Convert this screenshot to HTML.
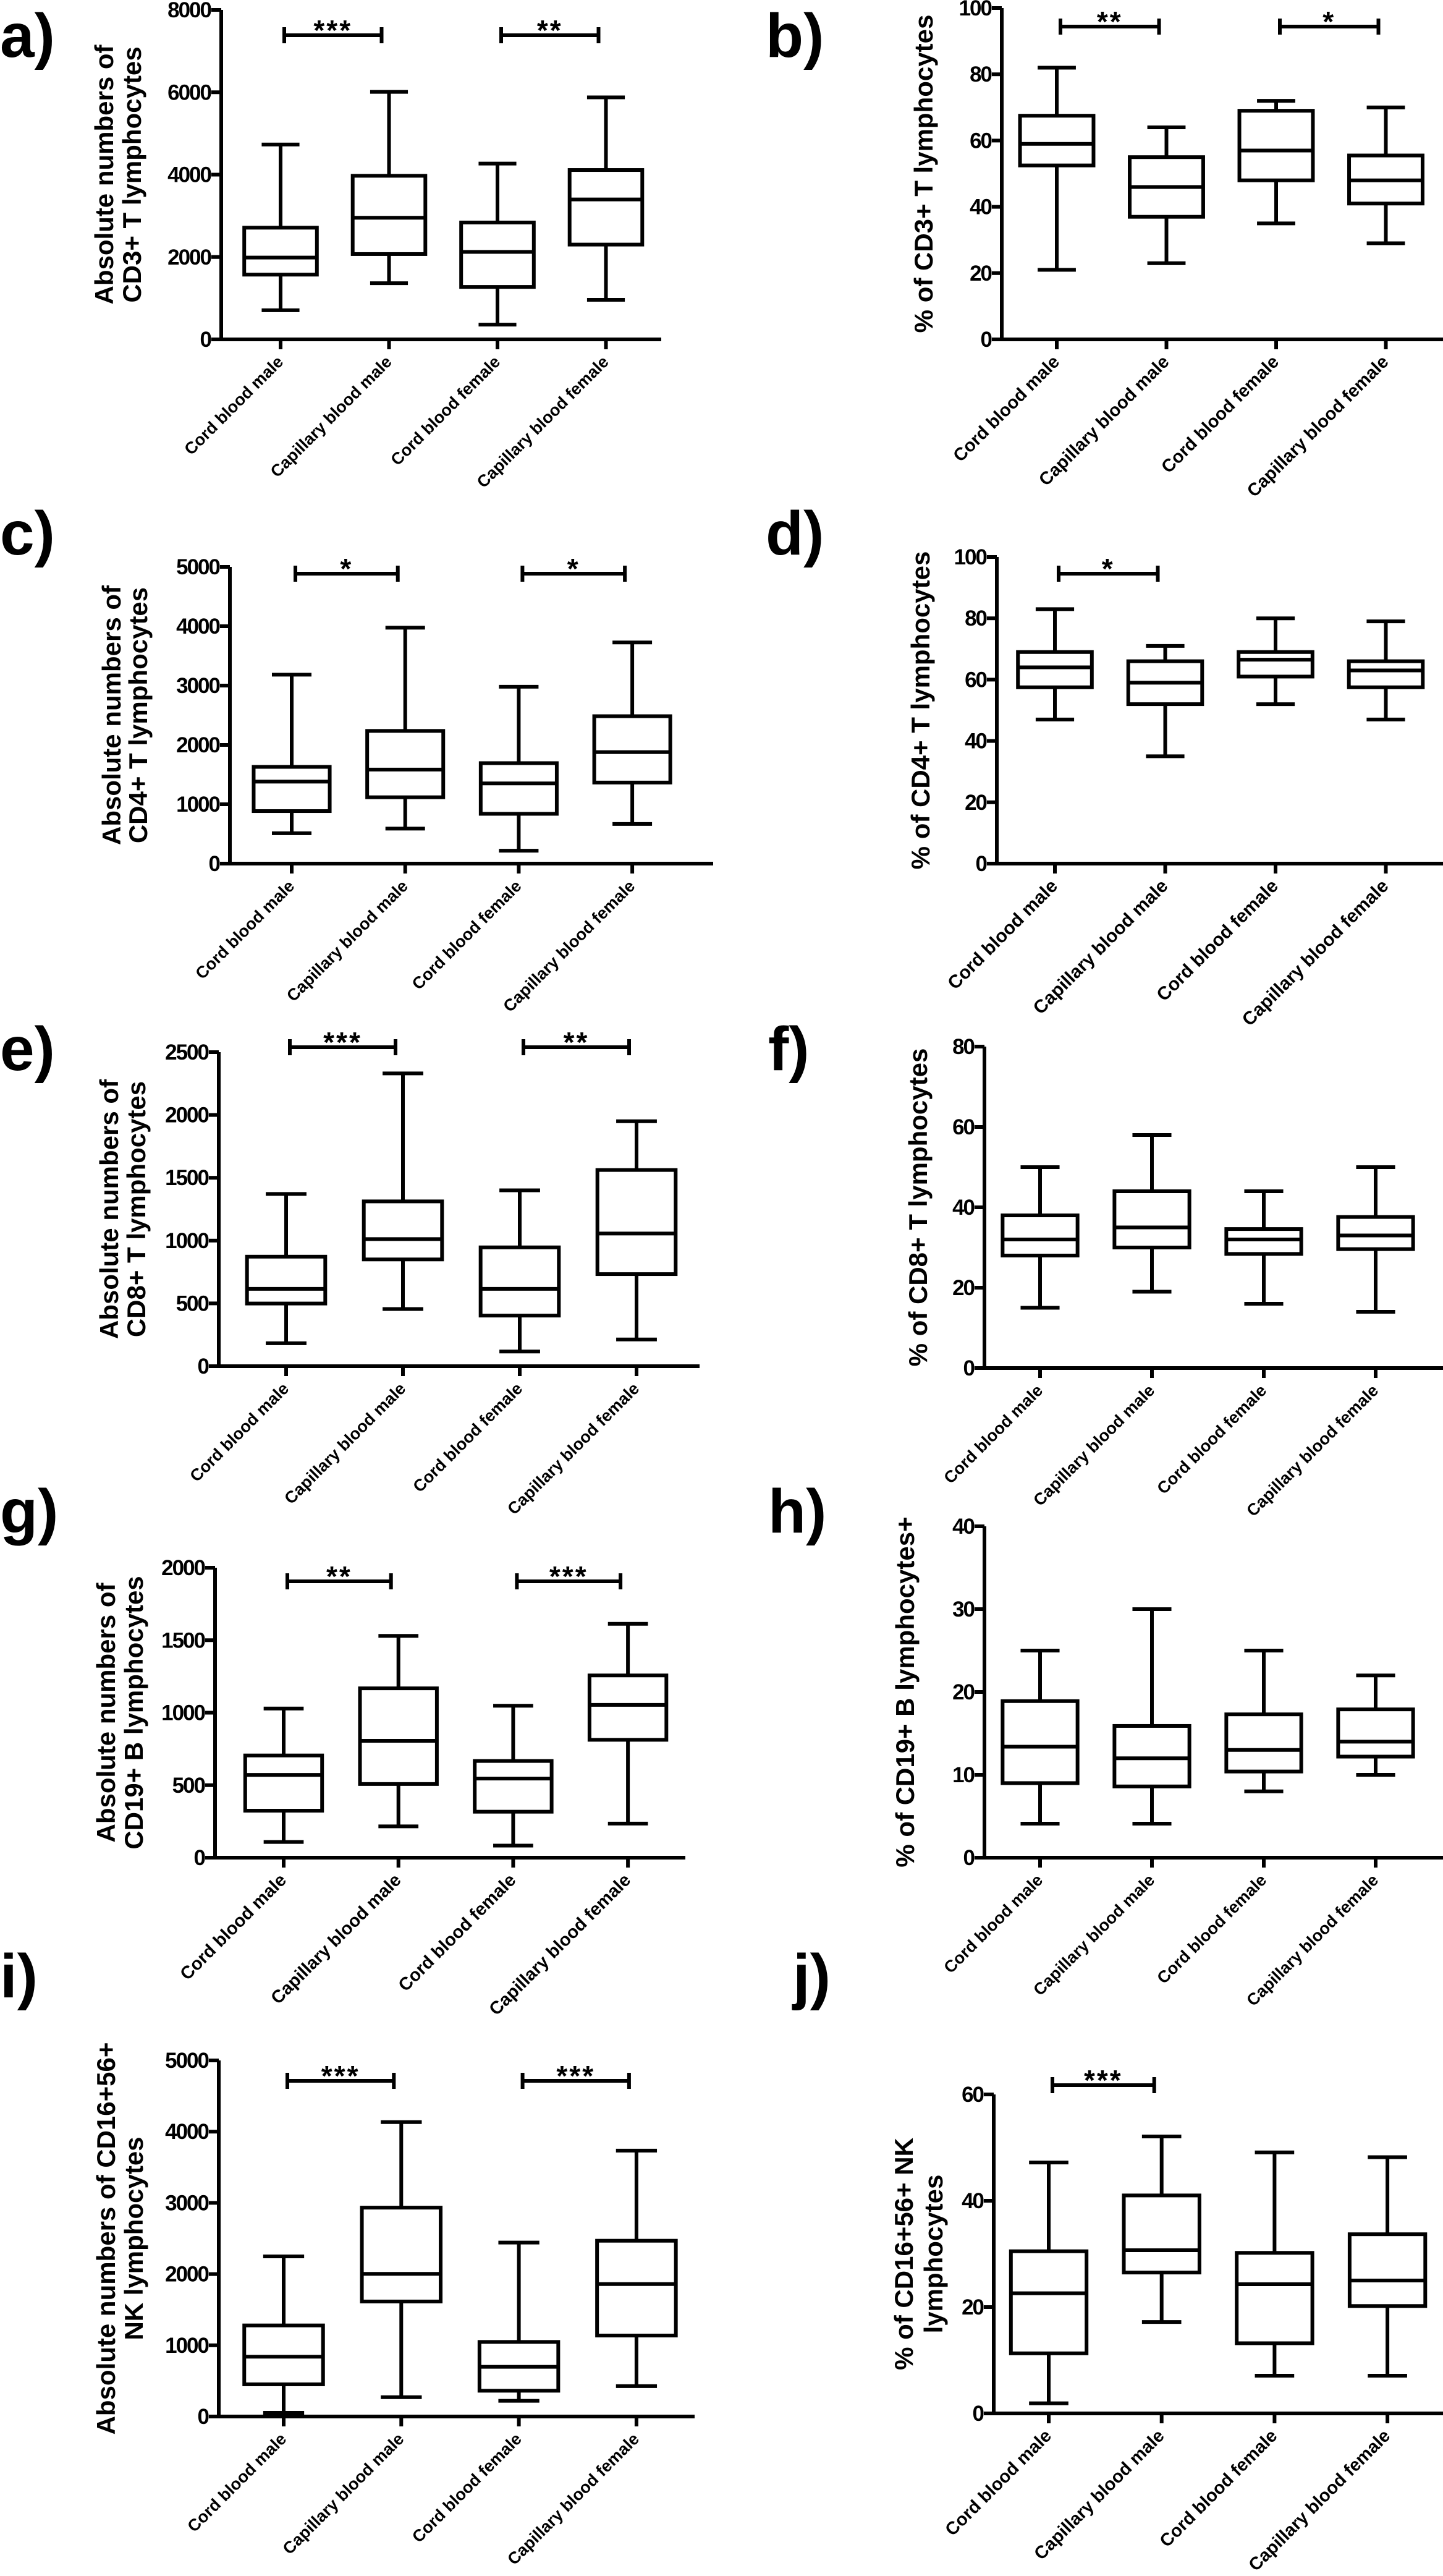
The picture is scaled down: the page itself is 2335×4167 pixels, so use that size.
<!DOCTYPE html>
<html><head><meta charset="utf-8">
<style>
html,body{margin:0;padding:0;background:#fff;}
svg{display:block;}
text{font-family:"Liberation Sans",Arial,sans-serif;font-weight:bold;fill:#000;}
</style></head>
<body>
<svg id="fig" width="2335" height="4167" viewBox="0 0 2335 4167" xmlns="http://www.w3.org/2000/svg"></svg>
<script>
// ---------- DATA ----------
const categories = ["Cord blood male","Capillary blood male","Cord blood female","Capillary blood female"];

const aMin=[708,1364,358,961],  aQ1=[1572,2072,1274,2302], aMed=[1986,2953,2123,3397], aQ3=[2712,3972,2838,4112], aMax=[4732,6010,4268,5877];
const bMin=[21,23,35,29],       bQ1=[52.5,37,48,41],       bMed=[59,46,57,48],         bQ3=[67.5,55,69,55.5],      bMax=[82,64,72,70];
const cMin=[512,590,217,668],   cQ1=[885,1118,839,1366],   cMed=[1382,1584,1351,1879], cQ3=[1630,2236,1693,2484], cMax=[3183,3975,2981,3727];
const dMin=[47,35,52,47],       dQ1=[57.5,52,61,57.5],     dMed=[64,59,66.5,63],       dQ3=[69,66,69,66],          dMax=[83,71,80,79];
const eMin=[183,455,117,213],   eQ1=[499,850,403,733],     eMed=[616,1012,616,1056],   eQ3=[872,1312,946,1562],    eMax=[1371,2331,1400,1950];
const fMin=[15,19,16,14],       fQ1=[28,30,28.4,29.6],     fMed=[32,35,32,33],         fQ3=[38,44,34.6,37.6],      fMax=[50,58,44,50];
const gMin=[108,216,83,235],    gQ1=[324,508,317,813],     gMed=[571,806,546,1054],    gQ3=[705,1168,667,1257],    gMax=[1029,1530,1048,1613];
const hMin=[4.1,4.1,8,10],      hQ1=[9,8.6,10.4,12.2],     hMed=[13.4,12,13,14],       hQ3=[18.9,15.9,17.3,17.9],  hMax=[25,30,25,22];
const iMin=[52,271,220,426],    iQ1=[452,1615,362,1137],   iMed=[840,2003,698,1860],   iQ3=[1279,2933,1047,2468],  iMax=[2248,4134,2442,3734];
const jMin=[1.9,17.2,7.1,7.1],  jQ1=[11.3,26.5,13.2,20.2], jMed=[22.6,30.7,24.3,25],   jQ3=[30.5,41,30.2,33.7],    jMax=[47.2,52.1,49.1,48.2];

const aTicks=[0,2000,4000,6000,8000];
const bTicks=[0,20,40,60,80,100];
const cTicks=[0,1000,2000,3000,4000,5000];
const dTicks=[0,20,40,60,80,100];
const eTicks=[0,500,1000,1500,2000,2500];
const fTicks=[0,20,40,60,80];
const gTicks=[0,500,1000,1500,2000];
const hTicks=[0,10,20,30,40];
const iTicks=[0,1000,2000,3000,4000,5000];
const jTicks=[0,20,40,60];

// significance: [fromIndex, toIndex, label]
const aSig=[[0,1,"***"],[2,3,"**"]];
const bSig=[[0,1,"**"],[2,3,"*"]];
const cSig=[[0,1,"*"],[2,3,"*"]];
const dSig=[[0,1,"*"]];
const eSig=[[0,1,"***"],[2,3,"**"]];
const fSig=[];
const gSig=[[0,1,"**"],[2,3,"***"]];
const hSig=[];
const iSig=[[0,1,"***"],[2,3,"***"]];
const jSig=[[0,1,"***"]];

// ---------- LAYOUT ----------
const NS="http://www.w3.org/2000/svg";
const svg=document.getElementById('fig');
function el(tag,attrs,parent){const e=document.createElementNS(NS,tag);for(const k in attrs)e.setAttribute(k,attrs[k]);(parent||svg).appendChild(e);return e;}

const panels=[
 {id:'a',min:aMin,q1:aQ1,med:aMed,q3:aQ3,max:aMax,ticks:aTicks,sig:aSig,sigY:57,ax:358,y0:549,yT:16,c0:454,step:175.5,xEnd:1070,lab:[0,92],title:["Absolute numbers of","CD3+ T lymphocytes"],tx:[168,213],cat:27},
 {id:'b',min:bMin,q1:bQ1,med:bMed,q3:bQ3,max:bMax,ticks:bTicks,sig:bSig,sigY:43,ax:1621,y0:549,yT:13,c0:1710,step:177.5,xEnd:2335,lab:[1239,92],title:["% of CD3+ T lymphocytes"],tx:[1494],cat:29},
 {id:'c',min:cMin,q1:cQ1,med:cMed,q3:cQ3,max:cMax,ticks:cTicks,sig:cSig,sigY:928,ax:372,y0:1397,yT:917,c0:472,step:183.7,xEnd:1154,lab:[0,897],title:["Absolute numbers of","CD4+  T lymphocytes"],tx:[180,223],cat:27},
 {id:'d',min:dMin,q1:dQ1,med:dMed,q3:dQ3,max:dMax,ticks:dTicks,sig:dSig,sigY:928,ax:1613,y0:1397,yT:901,c0:1707,step:178.5,xEnd:2335,lab:[1239,897],title:["% of CD4+ T lymphocytes"],tx:[1489],cat:30},
 {id:'e',min:eMin,q1:eQ1,med:eMed,q3:eQ3,max:eMax,ticks:eTicks,sig:eSig,sigY:1694,ax:354,y0:2210,yT:1702,c0:463,step:189,xEnd:1132,lab:[0,1731],title:["Absolute numbers of","CD8+ T lymphocytes"],tx:[176,220],cat:27},
 {id:'f',min:fMin,q1:fQ1,med:fMed,q3:fQ3,max:fMax,ticks:fTicks,sig:fSig,sigY:0,ax:1593,y0:2213,yT:1693,c0:1683,step:181,xEnd:2335,lab:[1243,1731],title:["% of CD8+ T lymphocytes"],tx:[1485],cat:27},
 {id:'g',min:gMin,q1:gQ1,med:gMed,q3:gQ3,max:gMax,ticks:gTicks,sig:gSig,sigY:2558,ax:348,y0:3005,yT:2536,c0:459,step:185.7,xEnd:1109,lab:[0,2479],title:["Absolute numbers of","CD19+ B lymphocytes"],tx:[171,216],cat:29},
 {id:'h',min:hMin,q1:hQ1,med:hMed,q3:hQ3,max:hMax,ticks:hTicks,sig:hSig,sigY:0,ax:1593,y0:3005,yT:2469,c0:1683,step:181,xEnd:2335,lab:[1243,2479],title:["% of CD19+ B  lymphocytes+"],tx:[1464],cat:27},
 {id:'i',min:iMin,q1:iQ1,med:iMed,q3:iQ3,max:iMax,ticks:iTicks,sig:iSig,sigY:3366,ax:354,y0:3909,yT:3333,c0:459,step:190.3,xEnd:1124,lab:[0,3231],title:["Absolute numbers of CD16+56+","NK lymphocytes"],tx:[171,216],cat:27},
 {id:'j',min:jMin,q1:jQ1,med:jMed,q3:jQ3,max:jMax,ticks:jTicks,sig:jSig,sigY:3373,ax:1608,y0:3904,yT:3388,c0:1697,step:182.7,xEnd:2335,lab:[1283,3231],title:["% of CD16+56+ NK","lymphocytes"],tx:[1462,1510],cat:29}
];

const LW=6;
panels.forEach(p=>{
  const g=el('g',{});
  
  
  const vmax=p.ticks[p.ticks.length-1];
  const yS=v=>p.y0-(v/vmax)*(p.y0-p.yT);
  const xS=i=>p.c0+i*p.step;
  const bw=p.step*0.67, cw=bw*0.52;

  const pl=el('text',{x:p.lab[0],y:p.lab[1],'font-size':100},g);
  pl.textContent=p.id+')';
  
  

  const ymid=(p.y0+p.yT)/2;
  p.title.forEach((t,k)=>{
    const tt=el('text',{x:0,y:0,'font-size':42,'text-anchor':'middle',transform:`translate(${p.tx[k]+15},${ymid}) rotate(-90)`},g);
    tt.textContent=t;
    
    
  });

  const ya=el('line',{x1:p.ax,y1:p.yT,x2:p.ax,y2:p.y0+LW/2,stroke:'#000','stroke-width':LW},g);
  
  
  const xa=el('line',{x1:p.ax-LW/2,y1:p.y0,x2:p.xEnd,y2:p.y0,stroke:'#000','stroke-width':LW},g);
  
  

  p.ticks.forEach(v=>{
    const y=yS(v);
    const tk=el('line',{x1:p.ax-16,y1:y,x2:p.ax,y2:y,stroke:'#000','stroke-width':LW},g);
    
    
    const tl=el('text',{x:p.ax-17,y:y+12,'font-size':35,'text-anchor':'end','letter-spacing':-2},g);
    tl.textContent=v;
    
    
  });

  categories.forEach((c,i)=>{
    const x=xS(i);
    const tk=el('line',{x1:x,y1:p.y0,x2:x,y2:p.y0+16,stroke:'#000','stroke-width':LW},g);
    
    
    const cl=el('text',{x:0,y:0,'font-size':p.cat,'text-anchor':'end',transform:`translate(${x+6},${p.y0+38}) rotate(-45)`},g);
    cl.textContent=c;
    
    

    const bg=el('g',{fill:'none',stroke:'#000','stroke-width':LW},g);
    
    
    el('line',{x1:x,y1:yS(p.max[i]),x2:x,y2:yS(p.q3[i])},bg);
    el('line',{x1:x,y1:yS(p.q1[i]),x2:x,y2:yS(p.min[i])},bg);
    el('line',{x1:x-cw/2,y1:yS(p.max[i]),x2:x+cw/2,y2:yS(p.max[i])},bg);
    el('line',{x1:x-cw/2,y1:yS(p.min[i]),x2:x+cw/2,y2:yS(p.min[i])},bg);
    el('rect',{x:x-bw/2,y:yS(p.q3[i]),width:bw,height:yS(p.q1[i])-yS(p.q3[i])},bg);
    el('line',{x1:x-bw/2,y1:yS(p.med[i]),x2:x+bw/2,y2:yS(p.med[i])},bg);
  });

  p.sig.forEach(s=>{
    const x1=xS(s[0])+6, x2=xS(s[1])-12, y=p.sigY;
    const sg=el('g',{stroke:'#000','stroke-width':LW},g);
    
    
    el('line',{x1:x1,y1:y,x2:x2,y2:y},sg);
    el('line',{x1:x1,y1:y-13,x2:x1,y2:y+13},sg);
    el('line',{x1:x2,y1:y-13,x2:x2,y2:y+13},sg);
    const st=el('text',{x:(x1+x2)/2,y:y+8,'font-size':46,'text-anchor':'middle','letter-spacing':3},g);
    st.textContent=s[2];
    
    
  });
});
</script>
</body></html>
